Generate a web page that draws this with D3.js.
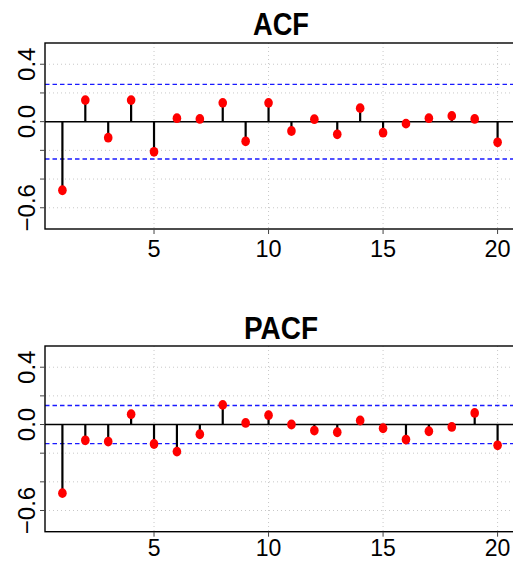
<!DOCTYPE html>
<html>
<head>
<meta charset="utf-8">
<script src="https://cdn.jsdelivr.net/npm/d3@7"></script>
<style>
  html, body { margin: 0; padding: 0; background: #fff; }
  svg { display: block; }
  text { font-family: "Liberation Sans", Arial, Helvetica, sans-serif; }
</style>
</head>
<body>
<div id="chart"></div>
<script>
// ---- data ----
const lags = d3.range(1, 21);
const acfValues = [-0.478, 0.150, -0.112, 0.150, -0.210, 0.024, 0.019, 0.131, -0.137, 0.131,
                   -0.065, 0.017, -0.088, 0.094, -0.077, -0.014, 0.024, 0.040, 0.019, -0.144];
const pacfValues = [-0.479, -0.110, -0.119, 0.072, -0.136, -0.189, -0.068, 0.137, 0.011, 0.065,
                    0.000, -0.042, -0.054, 0.028, -0.026, -0.105, -0.047, -0.017, 0.081, -0.145];
const acfBound = 0.26;
const pacfBound = 0.133;
const yLim = [-0.7, 0.5];
const yGridTicks = [-0.6, -0.4, -0.2, 0.2, 0.4];
const yLabelTicks = [-0.6, 0.0, 0.4];
const xTicks = [5, 10, 15, 20];
const titles = ["ACF", "PACF"];

// ---- layout ----
const W = 513, H = 561;
const svg = d3.select("#chart").append("svg").attr("width", W).attr("height", H);

const pad = 0.04;
const xLim = [1, 20];
const xr = xLim[1] - xLim[0], yr = yLim[1] - yLim[0];
const x = d3.scaleLinear()
  .domain([xLim[0] - pad * xr, xLim[1] + pad * xr])
  .range([45, 515]);

const panels = [
  { title: titles[0], values: acfValues, bound: acfBound, top: 43, bottom: 229, titleY: 35, titleLen: 56, xLabDy: 27.5, xLabSize: 23.5 },
  { title: titles[1], values: pacfValues, bound: pacfBound, top: 346, bottom: 531.7, titleY: 339, titleLen: 74, xLabDy: 24.5, xLabSize: 23 }
];

panels.forEach(p => {
  const y = d3.scaleLinear()
    .domain([yLim[0] - pad * yr, yLim[1] + pad * yr])
    .range([p.bottom, p.top]);
  const g = svg.append("g");
  const [x0, x1] = x.range();

  // grid (dotted)
  g.append("g").selectAll("line.hg").data(yGridTicks).join("line")
    .attr("x1", x0).attr("x2", x1)
    .attr("y1", d => y(d)).attr("y2", d => y(d))
    .attr("stroke", "#c8c8c8").attr("stroke-width", 1).attr("stroke-dasharray", "1,3");
  g.append("g").selectAll("line.vg").data(xTicks).join("line")
    .attr("x1", d => x(d)).attr("x2", d => x(d))
    .attr("y1", p.top).attr("y2", p.bottom)
    .attr("stroke", "#c8c8c8").attr("stroke-width", 1).attr("stroke-dasharray", "1,3");

  // confidence bounds
  g.append("g").selectAll("line.cb").data([p.bound, -p.bound]).join("line")
    .attr("x1", x0).attr("x2", x1)
    .attr("y1", d => y(d)).attr("y2", d => y(d))
    .attr("stroke", "#1a1aff").attr("stroke-width", 1.4).attr("stroke-dasharray", "4.5,3");

  // zero line
  g.append("line").attr("x1", x0).attr("x2", x1)
    .attr("y1", y(0)).attr("y2", y(0))
    .attr("stroke", "#000").attr("stroke-width", 1.5);

  // stems
  g.append("g").selectAll("line.stem").data(p.values).join("line")
    .attr("x1", (d, i) => x(lags[i])).attr("x2", (d, i) => x(lags[i]))
    .attr("y1", y(0)).attr("y2", d => y(d))
    .attr("stroke", "#000").attr("stroke-width", 2.2);

  // points
  g.append("g").selectAll("ellipse").data(p.values).join("ellipse")
    .attr("cx", (d, i) => x(lags[i])).attr("cy", d => y(d))
    .attr("rx", 4.3).attr("ry", 4.9)
    .attr("fill", "#ff0000");

  // box
  g.append("rect").attr("x", x0).attr("y", p.top)
    .attr("width", x1 - x0).attr("height", p.bottom - p.top)
    .attr("fill", "none").attr("stroke", "#000").attr("stroke-width", 1.4);

  // y axis ticks
  const allYTicks = [-0.6, -0.4, -0.2, 0, 0.2, 0.4];
  g.append("g").selectAll("line.yt").data(allYTicks).join("line")
    .attr("x1", x0 - 5).attr("x2", x0)
    .attr("y1", d => y(d)).attr("y2", d => y(d))
    .attr("stroke", "#444").attr("stroke-width", 1);
  g.append("g").selectAll("text.yl").data(yLabelTicks).join("text")
    .attr("transform", d => `translate(35,${y(d)}) rotate(-90)`)
    .attr("text-anchor", "middle")
    .attr("font-size", 24)
    .attr("fill", "#000")
    .text(d => d3.format(".1f")(d).replace("-", "\u2212"));

  // x axis ticks
  g.append("g").selectAll("line.xt").data(xTicks).join("line")
    .attr("x1", d => x(d)).attr("x2", d => x(d))
    .attr("y1", p.bottom).attr("y2", p.bottom + 5)
    .attr("stroke", "#444").attr("stroke-width", 1);
  g.append("g").selectAll("text.xl").data(xTicks).join("text")
    .attr("x", d => x(d)).attr("y", p.bottom + p.xLabDy)
    .attr("text-anchor", "middle")
    .attr("font-size", p.xLabSize)
    .attr("fill", "#000")
    .text(d => d);

  // title
  g.append("text")
    .attr("x", 281).attr("y", p.titleY)
    .attr("text-anchor", "middle")
    .attr("font-size", 32).attr("font-weight", "bold")
    .attr("textLength", p.titleLen).attr("lengthAdjust", "spacingAndGlyphs")
    .text(p.title);
});
</script>
</body>
</html>
